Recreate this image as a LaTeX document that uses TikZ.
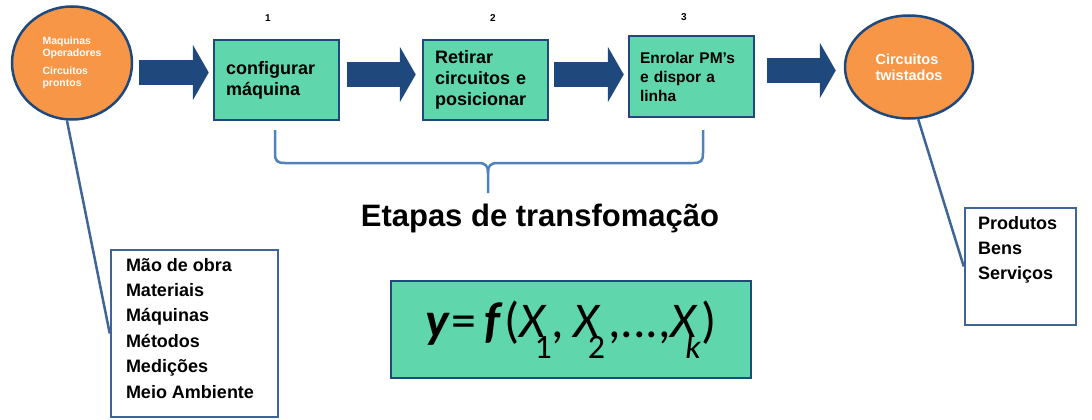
\documentclass[tikz,border=0pt]{standalone}
\usepackage{fontspec}
\setmainfont{Liberation Sans}
\newfontfamily\eqfont{Carlito}
\usetikzlibrary{arrows.meta,shapes.geometric}
\definecolor{mint}{HTML}{60D6AC}
\definecolor{peach}{HTML}{F79646}
\definecolor{navy}{HTML}{1F497D}
\definecolor{steel}{HTML}{4F81BD}
\definecolor{slate}{HTML}{3F6598}
\newcommand{\eqsub}[2]{\kern-#1pt\raisebox{-21pt}{\fontsize{34}{34}\selectfont #2}}

\begin{document}
\begin{tikzpicture}[x=1pt,y=-1pt]
        \useasboundingbox (0,0) rectangle (1092,420);
        % entradas e saidas
        \begin{scope}[every node/.style={ellipse,draw=navy,line width=2.5pt,fill=peach,text=white,align=left}]
          \node[minimum width=120pt,minimum height=113pt,font=\fontsize{10.5}{11.5}\selectfont\bfseries] (cin) at (72,63) {Maquinas\\Operadores\\[7pt]Circuitos\\prontos};
          \node[minimum width=128pt,minimum height=103pt,font=\fontsize{14.5}{16}\selectfont\bfseries] (cout) at (909,67) {Circuitos\\twistados};
        \end{scope}
        % etapas
        \begin{scope}[every node/.style={rectangle,draw=navy,line width=2.5pt,fill=mint,minimum width=125pt,minimum height=80pt,text width=101pt,align=left,font=\fontsize{18}{21}\selectfont\bfseries}]
          \node (b1) at (276.5,80) {configurar\\máquina};
          \node (b2) at (485.5,80) {Retirar\\circuitos e\\posicionar};
          \node[minimum height=81pt,text width=103pt,font=\fontsize{15.5}{19}\selectfont\bfseries] (b3) at (691.5,76.5) {Enrolar PM's\\e dispor a\\linha};
        \end{scope}
        \begin{scope}[every node/.style={font=\fontsize{10}{12}\selectfont\bfseries}]
          \node (n1) at (268,18) {1};
          \node (n2) at (493,18) {2};
          \node (n3) at (684,17) {3};
        \end{scope}
        % setas
        \begin{scope}[every edge/.style={draw=navy,line width=25pt,-{Triangle[width=55pt,length=16pt]}}]
          \path ([shift={(6,9.5)}]cin.east) edge ([shift={(-4,-7.5)}]b1.west);
          \path ([shift={(7,-5.5)}]b1.east) edge ([shift={(-6,-5.5)}]b2.west);
          \path ([shift={(5,-5.5)}]b2.east) edge ([shift={(-4,-2)}]b3.west);
          \path ([shift={(12,-6)}]b3.east) edge ([shift={(-8,3.5)}]cout.west);
        \end{scope}
        % chave
        \draw[steel,line width=2.5pt] (275,130) -- (275,153) .. controls (275,161) and (277,163) .. (285,163) -- (478,163) .. controls (486,163) and (488,166) .. (488,173) -- (488,193);
        \draw[steel,line width=2.5pt] (703,130) -- (703,153) .. controls (703,161) and (701,163) .. (693,163) -- (498,163) .. controls (490,163) and (488,166) .. (488,173);
        \node[font=\fontsize{31}{36}\selectfont\bfseries] (title) at (540,218) {Etapas de transfomação};
        \node[draw=navy,line width=2.5pt,fill=mint,minimum width=360pt,minimum height=97pt,font=\eqfont\fontsize{50}{50}\selectfont] (eq) at (571,329.5) {\textbf{\textit{y}}\kern1pt=\kern8pt\textbf{\textit{f}}\kern2pt(\textit{X}\eqsub{13}{1},\kern9pt\textit{X}\eqsub{13}{2}\kern3pt,...,\textit{X}\eqsub{13}{\textit{k}})\hspace{24pt}};
        % listas
        \begin{scope}[every node/.style={rectangle,draw=slate,line width=2.5pt,fill=white,inner sep=0pt,font=\fontsize{18}{25.4}\selectfont\bfseries}]
          \node[minimum width=167pt,minimum height=167pt] (ins) at (194.5,333.5) {\parbox[c][151pt][t]{137pt}{Mão de obra\\Materiais\\Máquinas\\Métodos\\Medições\\Meio Ambiente}};
          \node[minimum width=111pt,minimum height=117pt] (outs) at (1020.5,266.5) {\parbox[c][101pt][t]{85pt}{Produtos\\Bens\\Serviços}};
        \end{scope}
        % ligacoes
        \begin{scope}[every edge/.style={draw=slate,line width=2.5pt}]
          \path (cin.-95) edge (ins.west);
          \path (cout.-80) edge (outs.west);
        \end{scope}
\end{tikzpicture}
\end{document}
